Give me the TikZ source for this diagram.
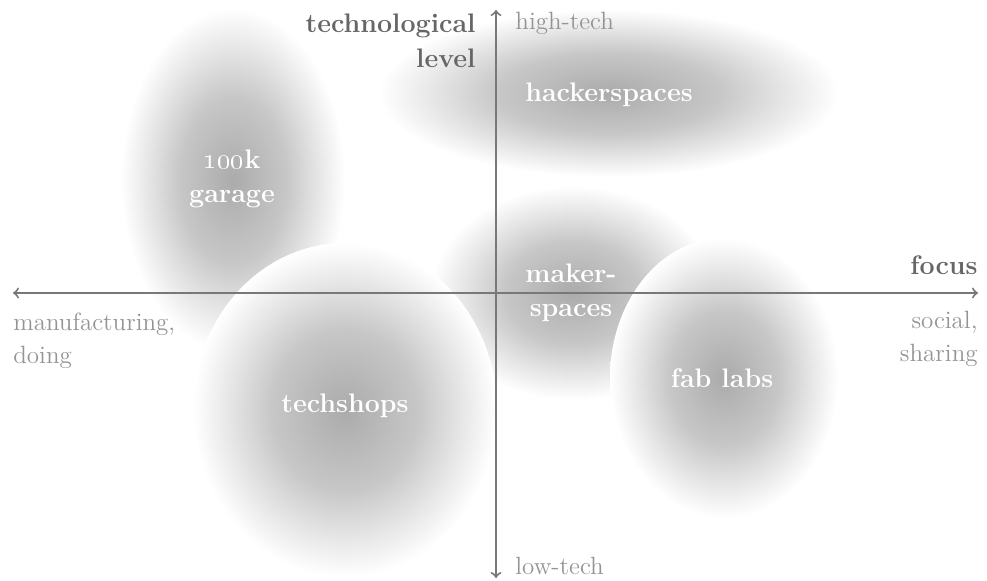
\documentclass[tikz,border=0pt]{standalone}
\usepackage{tikz}

\definecolor{axisgray}{gray}{0.47}
\definecolor{titlegray}{gray}{0.4}
\definecolor{endgray}{gray}{0.58}
\definecolor{blobcore}{gray}{0.67}
\definecolor{blobmid}{gray}{0.78}
\definecolor{blobrim}{gray}{0.9}
\pgfdeclareradialshading{blob}{\pgfpointorigin}{color(0bp)=(blobcore); color(12bp)=(blobmid); color(19bp)=(blobrim); color(25bp)=(white); color(50bp)=(white)}

\begin{document}
\begin{tikzpicture}[x=0.5pt, y=-0.5pt,
    blobtext/.style={text=white, font=\fontsize{13.4}{17}\selectfont\bfseries, align=center, inner sep=0pt},
    axistitle/.style={text=titlegray, font=\fontsize{13.4}{17.5}\selectfont\bfseries, inner sep=0pt},
    endtext/.style={text=endgray, font=\fontsize{12.5}{16.5}\selectfont, inner sep=0pt},
    axis/.style={draw=axisgray, line width=1pt}]
  \useasboundingbox (0,0) rectangle (987,581);

  % clouds
  \shade[shading=blob] (609,93) ellipse (230 and 84);
  \shade[shading=blob] (233,180) ellipse (112 and 172);
  \shade[shading=blob] (573,293) ellipse (142 and 107);
  \shade[shading=blob] (345,410) ellipse (152 and 167);
  \shade[shading=blob] (724,378) ellipse (114 and 140);

  % axes
  \coordinate (doing)   at (13,293);
  \coordinate (sharing) at (978,293);
  \coordinate (high)    at (496,10);
  \coordinate (low)     at (496,578);
  \draw[axis, <->] (doing) -- (sharing);
  \draw[axis, <->] (low) -- (high);

  \node[axistitle, align=right, anchor=north east] (techlevel) at (476,14) {technological\\level};
  \node[axistitle, anchor=base east] (focus) at (978,275) {focus};
  \node[endtext, anchor=base west] (hightech) at (515,30) {high-tech};
  \node[endtext, anchor=base west] (lowtech) at (515,575) {low-tech};
  \node[endtext, align=right, anchor=north east] (social) at (978,311) {social,\\sharing};
  \node[endtext, align=left, anchor=north west] (manufacturing) at (13,313) {manufacturing,\\doing};

  \node[blobtext, anchor=base] (hackerspaces) at (609,102) {hackerspaces};
  \node[blobtext, anchor=north] (garage) at (232,150) {\oldstylenums{100}k\\garage};
  \node[blobtext, anchor=north] (makerspaces) at (571,264) {maker-\\spaces};
  \node[blobtext, anchor=base] (techshops) at (345,413) {techshops};
  \node[blobtext, anchor=base] (fablabs) at (722,388) {fab labs};
\end{tikzpicture}
\end{document}
